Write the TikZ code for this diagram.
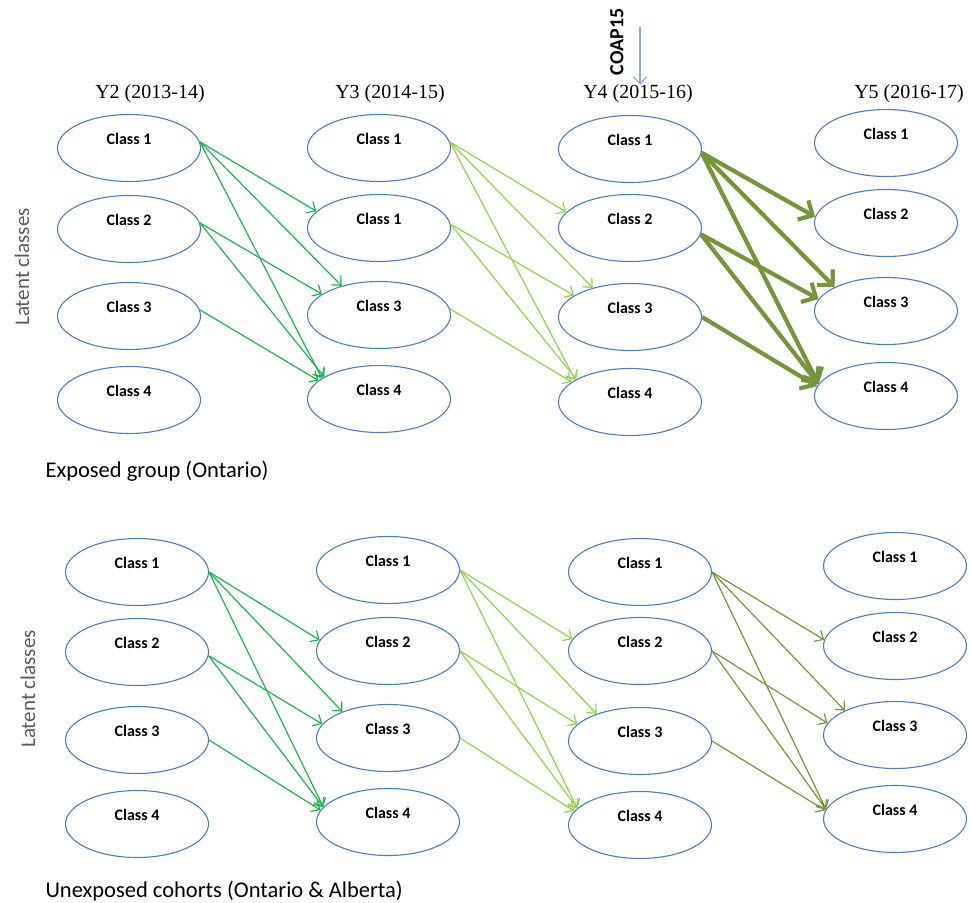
\documentclass[tikz,border=0pt]{standalone}
\usepackage{fontspec}
\setmainfont{Liberation Serif}
\newfontfamily\carl{Carlito}
\usetikzlibrary{arrows.meta}
\usetikzlibrary{shapes.geometric}
\definecolor{bord}{RGB}{80,124,182}
\definecolor{vert}{RGB}{30,178,80}
\definecolor{vertclair}{RGB}{146,208,80}
\definecolor{kaki}{RGB}{119,147,60}
\definecolor{bleuclair}{RGB}{140,170,215}
\definecolor{gris}{RGB}{89,89,89}
\newcommand\fs[1]{\fontsize{#1}{#1}\selectfont}

\begin{document}
\begin{tikzpicture}[x=1pt,y=-1pt]%
        \useasboundingbox (0,0) rectangle (971,902);%%
        \tikzstyle{classe}=[draw=bord,line width=1.1pt,ellipse,minimum width=143pt,minimum height=67pt,inner sep=0pt,font=\carl\bfseries\fs{16},text depth=19pt]
        \tikzstyle{fl}=[line width=1.2pt,-{Straight Barb[length=7pt,width=13pt]}]
        \tikzstyle{flepais}=[line width=4.2pt,-{Straight Barb[length=11pt,width=22pt]}]
        %% annees
        \node[font=\fs{20}] (y2) at (150,94) {Y2 (2013-14)}; %%
        \node[font=\fs{20}] (y3) at (390,94) {Y3 (2014-15)}; %%
        \node[font=\fs{20},inner sep=0pt] (y4) at (638,94) {Y4 (2015-16)}; %%
        \node[font=\fs{20}] (y5) at (909,94) {Y5 (2016-17)}; %%
        \node[font=\carl\bfseries\fs{20},rotate=90] (coap) at (617,42) {COAP15}; %%
        \coordinate (cp) at (640,27); %%
        \draw[bleuclair,line width=1.2pt,-{Straight Barb[length=7pt,width=13pt]}] (cp)--(y4.north -| cp); %%
        \node[font=\carl\fs{21},text=gris,rotate=90] (lat1) at (22,267) {Latent classes}; %%
        \node[font=\carl\fs{21},text=gris,rotate=90] (lat2) at (28,689) {Latent classes}; %%
        \node[font=\carl\fs{22.5},anchor=base west] (expo) at (42,477) {Exposed group (Ontario)}; %%
        \node[font=\carl\fs{22.5},anchor=base west] (nonexpo) at (42,897) {Unexposed cohorts (Ontario \& Alberta)}; %%
        %% groupe expose
        \node[classe] (e21) at (129,148) {Class 1}; %%
        \node[classe] (e22) at (129,229) {Class 2}; %%
        \node[classe] (e23) at (129,316) {Class 3}; %%
        \node[classe] (e24) at (129,400) {Class 4}; %%
        \node[classe] (e31) at (379,148) {Class 1}; %%
        \node[classe] (e32) at (379,228) {Class 1}; %%
        \node[classe] (e33) at (379,315) {Class 3}; %%
        \node[classe] (e34) at (379,399) {Class 4}; %%
        \node[classe] (e41) at (630,149) {Class 1}; %%
        \node[classe] (e42) at (630,228) {Class 2}; %%
        \node[classe] (e43) at (630,317) {Class 3}; %%
        \node[classe] (e44) at (630,402) {Class 4}; %%
        \node[classe] (e51) at (886,143) {Class 1}; %%
        \node[classe] (e52) at (886,223) {Class 2}; %%
        \node[classe] (e53) at (886,311) {Class 3}; %%
        \node[classe] (e54) at (886,396) {Class 4}; %%
        %% cohortes non exposees
        \node[classe] (u21) at (137,572) {Class 1}; %%
        \node[classe] (u22) at (137,652) {Class 2}; %%
        \node[classe] (u23) at (137,740) {Class 3}; %%
        \node[classe] (u24) at (137,824) {Class 4}; %%
        \node[classe] (u31) at (388,570) {Class 1}; %%
        \node[classe] (u32) at (388,651) {Class 2}; %%
        \node[classe] (u33) at (388,738) {Class 3}; %%
        \node[classe] (u34) at (388,822) {Class 4}; %%
        \node[classe] (u41) at (640,572) {Class 1}; %%
        \node[classe] (u42) at (640,651) {Class 2}; %%
        \node[classe] (u43) at (640,741) {Class 3}; %%
        \node[classe] (u44) at (640,825) {Class 4}; %%
        \node[classe] (u51) at (895,566) {Class 1}; %%
        \node[classe] (u52) at (895,646) {Class 2}; %%
        \node[classe] (u53) at (895,735) {Class 3}; %%
        \node[classe] (u54) at (895,819) {Class 4}; %%
        %% transitions, groupe expose
        \draw[fl,vert] (e21.5)--(e32.165); %%
        \draw[fl,vert] (e21.5)--(e33.142); %%
        \draw[fl,vert] (e21.5)--(e34.160); %%
        \draw[fl,vert] (e22.5)--(e33.160); %%
        \draw[fl,vert] (e22.5)--(e34.158); %%
        \draw[fl,vert] (e23.5)--(e34.163); %%
        \draw[fl,vertclair] (e31.5)--(e42.166); %%
        \draw[fl,vertclair] (e31.5)--(e43.142); %%
        \draw[fl,vertclair] (e31.5)--(e44.158); %%
        \draw[fl,vertclair] (e32.3)--(e43.159); %%
        \draw[fl,vertclair] (e32.3)--(e44.157); %%
        \draw[fl,vertclair] (e33.5)--(e44.161); %%
        \draw[flepais,kaki] (e41.-3)--(e52.175); %%
        \draw[flepais,kaki] (e41.-3)--(e53.155); %%
        \draw[flepais,kaki] (e41.-3)--(e54.170); %%
        \draw[flepais,kaki] (e42.-5)--(e53.170); %%
        \draw[flepais,kaki] (e42.-5)--(e54.170); %%
        \draw[flepais,kaki] (e43.0)--(e54.172); %%
        %% transitions, cohortes non exposees
        \draw[fl,vert] (u21.0)--(u32.171); %%
        \draw[fl,vert] (u21.0)--(u33.150); %%
        \draw[fl,vert] (u21.0)--(u34.167); %%
        \draw[fl,vert] (u22.-3)--(u33.168); %%
        \draw[fl,vert] (u22.-3)--(u34.167); %%
        \draw[fl,vert] (u23.0)--(u34.170); %%
        \draw[fl,vertclair] (u31.0)--(u42.170); %%
        \draw[fl,vertclair] (u31.0)--(u43.148); %%
        \draw[fl,vertclair] (u31.0)--(u44.165); %%
        \draw[fl,vertclair] (u32.0)--(u43.165); %%
        \draw[fl,vertclair] (u32.0)--(u44.165); %%
        \draw[fl,vertclair] (u33.0)--(u44.168); %%
        \draw[fl,kaki] (u41.0)--(u52.175); %%
        \draw[fl,kaki] (u41.0)--(u53.154); %%
        \draw[fl,kaki] (u41.0)--(u54.172); %%
        \draw[fl,kaki] (u42.0)--(u53.170); %%
        \draw[fl,kaki] (u42.0)--(u54.172); %%
        \draw[fl,kaki] (u43.0)--(u54.173); %%
\end{tikzpicture}
\end{document}
